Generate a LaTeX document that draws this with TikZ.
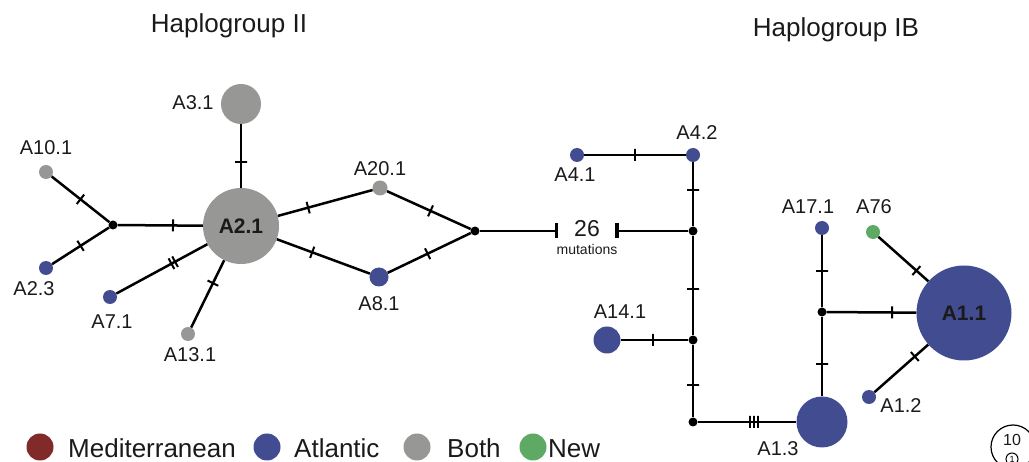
\documentclass[tikz,border=0pt]{standalone}
\usepackage{fontspec}
\setmainfont{Liberation Sans}
\usetikzlibrary{arrows.meta}
\definecolor{atlc}{HTML}{424C91}
\definecolor{bothc}{HTML}{979795}
\definecolor{medc}{HTML}{802A2A}
\definecolor{newc}{HTML}{5EAA64}
\definecolor{txt}{HTML}{1A1A1A}
\begin{document}
\begin{tikzpicture}[x=1pt,y=-1pt,
  hap/.style={circle,inner sep=0pt,draw=none},
  atl/.style={hap,fill=atlc},
  both/.style={hap,fill=bothc},
  nw/.style={hap,fill=newc},
  jn/.style={circle,fill=black,inner sep=0pt,minimum size=9pt},
  edge/.style={line width=2.5pt},
  tk/.style={draw,rectangle,line width=2pt,inner sep=0pt,minimum width=0pt,minimum height=12pt,sloped},
  lab/.style={inner sep=0pt,text=txt,font=\fontsize{20}{20}\selectfont},
  blab/.style={inner sep=0pt,text=txt,font=\fontsize{21}{21}\selectfont\bfseries},
  head/.style={inner sep=0pt,text=txt,anchor=base,font=\fontsize{26}{26}\selectfont},
  leg/.style={inner sep=0pt,text=txt,anchor=base west,font=\fontsize{26}{26}\selectfont},
  legc/.style={circle,inner sep=0pt,minimum size=27pt}
]
\useasboundingbox (0,0) rectangle (1029,462);

% headings
\node[head] (h2) at (229,33) {Haplogroup II};
\node[head] (h1) at (836,37) {Haplogroup IB};

% Haplogroup II nodes
\node[both,minimum size=76pt] (A21) at (241,226) {};
\node[blab] (A21t) at (241,226) {A2.1};
\node[both,minimum size=40pt] (A31) at (241,104) {};
\node[both,minimum size=14pt] (A101) at (46,172) {};
\node[atl,minimum size=14pt] (A23) at (46,268) {};
\node[jn] (J1) at (113,225) {};
\node[atl,minimum size=14pt] (A71) at (110,297) {};
\node[both,minimum size=14pt] (A131) at (188,334) {};
\node[both,minimum size=15pt] (A201) at (380,188) {};
\node[atl,minimum size=19pt] (A81) at (379,277) {};
\node[jn] (J2) at (475,231) {};

% Haplogroup IB nodes
\node[jn] (J3) at (693,231) {};
\node[atl,minimum size=14pt] (A41) at (577,155) {};
\node[atl,minimum size=14pt] (A42) at (693,155) {};
\node[jn] (J4) at (693,340) {};
\node[atl,minimum size=27pt] (A141) at (607,340) {};
\node[jn] (J5) at (693,422) {};
\node[atl,minimum size=51pt] (A13) at (822,422) {};
\node[jn] (J6) at (822,312) {};
\node[atl,minimum size=14pt] (A171) at (822,228) {};
\node[nw,minimum size=14pt] (A76) at (873,232) {};
\node[atl,minimum size=95pt] (A11) at (964,313) {};
\node[blab] (A11t) at (964,313) {A1.1};
\node[atl,minimum size=14pt] (A12) at (869,397) {};

\coordinate (bL) at (558,231);
\coordinate (bR) at (615,231);

% edges
\draw[edge] (J1) -- node[tk,pos=.5]{} (A101);
\draw[edge] (J1) -- node[tk,pos=.5]{} (A23);
\draw[edge] (J1) -- node[tk,pos=.65]{} (A21);
\draw[edge] (A31) -- node[tk,pos=.6]{} (A21);
\draw[edge] (A21) -- node[tk,pos=.355]{} node[tk,pos=.395]{} (A71);
\draw[edge] (A21) -- node[tk,pos=.34]{} (A131);
\draw[edge] (A21) -- node[tk,pos=.32]{} (A201);
\draw[edge] (A21) -- node[tk,pos=.38]{} (A81);
\draw[edge] (A201) -- node[tk,pos=.52]{} (J2);
\draw[edge] (A81) -- node[tk,pos=.48]{} (J2);
\draw[edge,-{Bar[width=15pt,line width=3.5pt]}] (J2) -- (bL);
\draw[edge,{Bar[width=15pt,line width=3.5pt]}-] (bR) -- (J3);
\draw[edge] (A41) -- node[tk,pos=.5]{} (A42);
\draw[edge] (A42) -- node[tk,pos=.43]{} (J3);
\draw[edge] (J3) -- node[tk,pos=.54]{} (J4);
\draw[edge] (J4) -- node[tk,pos=.52]{} (A141);
\draw[edge] (J4) -- node[tk,pos=.55]{} (J5);
\draw[edge] (J5) -- node[tk,pos=.53]{} node[tk,pos=.57]{} node[tk,pos=.61]{} (A13);
\draw[edge] (A13) -- node[tk,pos=.4]{} (J6);
\draw[edge] (J6) -- node[tk,pos=.5]{} (A171);
\draw[edge] (J6) -- node[tk,pos=.73]{} (A11);
\draw[edge] (A76) -- node[tk,pos=.76]{} (A11);
\draw[edge] (A12) -- node[tk,pos=.75]{} (A11);

% mutation count
\node[inner sep=0pt,text=txt,font=\fontsize{23}{23}\selectfont] (m26) at (587,229) {26};
\node[inner sep=0pt,text=txt,font=\fontsize{14}{14}\selectfont] (mut) at (587,249) {mutations};

% labels
\node[lab] (lA31) at (193,103) {A3.1};
\node[lab] (lA101) at (46,148) {A10.1};
\node[lab] (lA23) at (34,289) {A2.3};
\node[lab] (lA71) at (112,322) {A7.1};
\node[lab] (lA131) at (190,355) {A13.1};
\node[lab] (lA201) at (380,169) {A20.1};
\node[lab] (lA81) at (379,304) {A8.1};
\node[lab] (lA41) at (575,175) {A4.1};
\node[lab] (lA42) at (697,133) {A4.2};
\node[lab] (lA141) at (620,312) {A14.1};
\node[lab] (lA171) at (808,207) {A17.1};
\node[lab] (lA76) at (874,207) {A76};
\node[lab] (lA12) at (901,406) {A1.2};
\node[lab] (lA13) at (778,449) {A1.3};

% legend
\node[legc,fill=medc] (c1) at (40,447) {};
\node[leg] (t1) at (68,457) {Mediterranean};
\node[legc,fill=atlc] (c2) at (267,447) {};
\node[leg] (t2) at (294,457) {Atlantic};
\node[legc,fill=bothc] (c3) at (417,447) {};
\node[leg] (t3) at (447,457) {Both};
\node[legc,fill=newc] (c4) at (533,447) {};
\node[leg] (t4) at (548,457) {New};

% scale
\node[circle,draw=black,line width=1.2pt,minimum size=44pt,inner sep=0pt] (sc) at (1013,447) {};
\node[inner sep=0pt,text=txt,font=\fontsize{16}{16}\selectfont] (sc10) at (1012,440) {10};
\node[circle,draw=black,line width=1pt,minimum size=12pt,inner sep=0pt,font=\fontsize{9}{9}\selectfont] (sc1) at (1012,459) {1};
\end{tikzpicture}
\end{document}
